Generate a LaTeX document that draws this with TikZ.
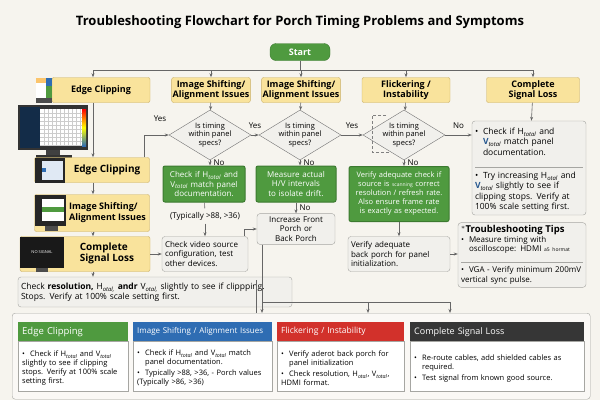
\documentclass[tikz,border=0pt]{standalone}
\usepackage{fontspec}
\setmainfont{Open Sans}
\usetikzlibrary{shapes.geometric,arrows.meta}
\definecolor{bg}{HTML}{F6F4EE}
\definecolor{yel}{HTML}{F9E39C}
\definecolor{yelline}{HTML}{C9AE62}
\definecolor{grn}{HTML}{4F9A3F}
\definecolor{grnline}{HTML}{3C7A30}
\definecolor{gbox}{HTML}{F1F0EC}
\definecolor{gline}{HTML}{A6A6A2}
\definecolor{hblue}{HTML}{2F6DB3}
\definecolor{hred}{HTML}{D2312B}
\definecolor{hdark}{HTML}{363636}
\hyphenpenalty=10000
\exhyphenpenalty=10000
\newcommand{\tsub}[1]{\textsubscript{\itshape #1}}
\newcommand{\bul}[1]{\par\hangindent=8pt\hangafter=1\makebox[8pt][l]{\textbullet}#1}
\newcommand{\sepline}{\par\vspace{1pt}{\color{gline}\rule{\linewidth}{0.4pt}}\par\vspace{1pt}}

\begin{document}
\begin{tikzpicture}[x=1pt,y=-1pt,
        every node/.style={font=\fontsize{8}{9.5}\selectfont},
        line/.style={draw=black!60,line width=0.6pt},
        arr/.style={line,-{Stealth[length=4pt,width=3pt]}},
        sym/.style={draw=yelline,fill=yel,rounded corners=2pt,align=center,
          font=\fontsize{9}{10.5}\selectfont\bfseries,inner sep=1pt},
        ask/.style={draw=black!55,fill=gbox,diamond,aspect=1.6,inner sep=-2pt,
          minimum width=82pt,minimum height=50pt,
          align=center,font=\fontsize{7.5}{8.5}\selectfont},
        act/.style={draw=grnline,fill=grn,text=white,rounded corners=2pt,
          align=center,inner sep=2pt,line width=1pt},
        stepbox/.style={draw=gline,fill=gbox,rounded corners=3pt,align=left,inner sep=3pt},
        lbl/.style={font=\fontsize{8}{9}\selectfont},
        head/.style={text=white,anchor=north west,inner sep=4pt,minimum height=19pt},
        card/.style={draw=gline,fill=white,anchor=north west,align=left,inner sep=4pt,
          font=\fontsize{7.5}{9}\selectfont},
      ]
      \fill[bg] (0,0) rectangle (600,400);
      \useasboundingbox (0,0) rectangle (600,400);
      \node[font=\fontsize{13}{15}\selectfont\bfseries] (title) at (300,22)
        {Troubleshooting Flowchart for Porch Timing Problems and Symptoms};
      \node[draw=grnline,fill=grn,text=white,rounded corners=6pt,minimum width=60pt,
        minimum height=17pt,font=\fontsize{9}{10}\selectfont\bfseries] (start) at (300,52) {Start};
      % symptom row
      \node[sym,minimum width=98pt,minimum height=25pt] (ec1) at (101,90) {Edge Clipping};
      \node[sym,minimum width=78pt,minimum height=25pt] (is1) at (211,90) {Image Shifting/\\Alignment Issues};
      \node[sym,minimum width=78pt,minimum height=25pt] (is2) at (301,90) {Image Shifting/\\Alignment Issues};
      \node[sym,minimum width=88pt,minimum height=25pt] (fl) at (406,90) {Flickering /\\Instability};
      \node[sym,minimum width=93pt,minimum height=25pt] (cs) at (533,90) {Complete\\Signal Loss};
      \fill[white] (36,78) rectangle (52,103);
      \fill[yel!70!orange] (36,78) rectangle (46,83);
      \fill[hblue] (46,78) rectangle (52,86);
      \fill[grn] (46,86) rectangle (52,98);
      \fill[black!70] (36,98) rectangle (52,103);
      \coordinate (top) at (300,70);
      \draw[line] (start) -- (top);
      \draw[line] (93,70) -- (533,70);
      \foreach \n/\x in {ec1/93,is1/211,is2/301,fl/406,cs/533}
        \draw[arr] (\x,70) -- (\n.north -| \x,0);
      % decisions
      \node[ask] (d1) at (210,135) {Is timing\\within panel\\specs?};
      \node[ask] (d2) at (300,135) {Is timing\\within panel\\specs?};
      \node[ask] (d3) at (404,135) {Is timing\\within panel\\specs?};
      \draw[black!50,densely dashed] (386,115) -- (372,115) -- (372,152) -- (390,152);
      \draw[arr] (is1) -- (d1);
      \draw[arr] (is2) -- (d2);
      \draw[arr] (fl) -- (d3);
      \draw[arr] (d1) -- node[lbl,above=3pt] {Yes} (d2);
      \draw[arr] (d2) -- node[lbl,above=3pt] {Yes} (d3);
      % actions
      \node[act,text width=78pt,minimum height=36pt] (g1) at (204,184)
        {Check if H\tsub{total} and V\tsub{total} match panel documentation.};
      \node[act,text width=76pt,minimum height=36pt] (g2) at (296,184)
        {Measure actual H/V intervals to isolate drift.};
      \node[act,text width=96pt,minimum height=55pt,font=\fontsize{7.5}{9}\selectfont] (g3) at (399,194)
        {Verify adequate check if source is {\tiny scanning} correct resolution / refresh rate. Also ensure frame rate is exactly as expected.};
      \draw[arr] (d1.south) -- node[lbl,right] {No} (d1.south |- g1.north);
      \draw[arr] (d2.south) -- node[lbl,right] {No} (d2.south |- g2.north);
      \draw[arr] (d3.south) -- node[lbl,right] {No} (d3.south |- g3.north);
      \node[lbl] (typ) at (205,216) {(Typically >88, >36)};
      \node[stepbox,text width=80pt,minimum height=35pt] (chk) at (205,254)
        {Check video source configuration, test other devices.};
      \node[stepbox,text width=72pt,minimum height=26pt,align=center] (inc) at (296,229)
        {Increase Front Porch or Back Porch};
      \node[stepbox,text width=96pt,minimum height=35pt] (ver) at (399,254)
        {Verify adequate back porch for panel initialization.};
      \draw[line] (g1) -- (typ);
      \draw[arr] (typ) -- (chk);
      \draw[arr] (g2.south) -- node[lbl,right] {No} (g2.south |- inc.north);
      \draw[arr] (chk.north east) ++(-4,0) |- (inc.west);
      \draw[arr] (g3) -- (ver);
      % right column
      \node[stepbox,text width=108pt,minimum height=93pt,font=\fontsize{8.5}{10.5}\selectfont] (chkr) at (529,168)
        {\bul{Check if H\tsub{total} and \textcolor{hblue!80!black}{\bfseries V}\tsub{total} match panel documentation.}
         \sepline
         \bul{Try increasing H\tsub{otal} and \textcolor{hblue!80!black}{\bfseries V}\tsub{total} slightly to see if clipping stops. Verify at 100\% scale setting first.}};
      \draw[arr] (d3.east) -- node[lbl,above=3pt] {No} (chkr.west |- d3.east);
      \draw[arr] (cs) -- (chkr);
      \node[stepbox,text width=122pt,minimum height=62pt,font=\fontsize{8}{9.5}\selectfont] (tips) at (522,255)
        {{\fontsize{9.5}{11}\selectfont\bfseries $^\ast$Troubleshooting Tips}
         \bul{Measure timing with oscilloscope: HDMI {\tiny a5 hormat}}
         \sepline
         \bul{VGA - Verify minimum 200mV vertical sync pulse.}};
      \draw[arr] (ver) -- (ver -| tips.west);
      % left column
      \fill[black!80] (18,105) rectangle (88,150);
      \fill[hblue!40!black] (20,107) rectangle (40,148);
      \fill[white] (40,109) rectangle (82,146);
      \foreach \x in {44,48,...,80} \draw[black!20,line width=0.3pt] (\x,109) -- (\x,146);
      \foreach \y in {113,117,...,145} \draw[black!20,line width=0.3pt] (40,\y) -- (82,\y);
      \shade[top color=red,bottom color=hblue,middle color=yellow] (82,109) rectangle (86,146);
      \fill[black!75] (46,150) rectangle (60,155);
      \fill[black!80] (36,155) rectangle (72,158);
      \node[sym,minimum width=115pt,minimum height=25pt,font=\fontsize{10}{11}\selectfont\bfseries] (ec2) at (92,170)
        {\hspace*{30pt}Edge Clipping};
      \node[sym,minimum width=115pt,minimum height=37pt,align=left] (is3) at (92,213)
        {\hspace*{31pt}\begin{tabular}{@{}l@{}}Image Shifting/\\Alignment Issues\end{tabular}};
      \node[sym,minimum width=130pt,minimum height=35pt,align=left,font=\fontsize{10}{11}\selectfont\bfseries] (cs2) at (85,254)
        {\hspace*{44pt}\begin{tabular}{@{}l@{}}Complete\\Signal Loss\end{tabular}};
      \fill[black!85] (35,158) rectangle (65,183);
      \fill[white!85!hblue] (42,161) rectangle (63,180);
      \fill[hblue] (42,168) rectangle (46,172);
      \fill[black!85] (35,195) rectangle (66,226);
      \fill[white] (42,199) rectangle (64,221);
      \fill[grn] (42,207) rectangle (64,212);
      \fill[black!70] (45,226) rectangle (58,231);
      \fill[black!90] (20,237) rectangle (64,268);
      \node[text=white,font=\fontsize{4}{5}\selectfont] (nosig) at (42,252) {NO SIGNAL};
      \fill[black!70] (36,268) rectangle (48,272);
      \draw[arr] (ec1.south -| 93,0) -- (ec2.north -| 93,0);
      \draw[arr] (ec2.south -| 93,0) -- (is3.north -| 93,0);
      \draw[arr] (is3.south -| 93,0) -- (cs2.north -| 93,0);
      \draw[arr] (cs2) -- (chk);
      \draw[arr] (ec2.north east) ++(-5,0) |- (d1.west);
      \node[lbl,above=2pt] (yes1) at (160,127) {Yes};
      \node[stepbox,text width=268pt,minimum height=30pt,font=\fontsize{8.5}{10}\selectfont] (note) at (155,292)
        {Check \textbf{resolution,} H\tsub{otal,} \textbf{andr} V\tsub{otal,} slightly to see if clippping.
         Stops. Verify at 100\% scale setting first.};
      \draw[arr] (cs2.south -| 93,0) -- (note.north -| 93,0);
      % bottom panel
      \node[draw=gline,fill=bg!60!white,rounded corners=3pt,minimum width=578pt,minimum height=86pt,anchor=north west] (panel) at (12,313) {};
      \draw[line] (inc.south -| 262,0) -- (262,302) -- (450,302);
      \draw[arr] (262,302) -- (262,313);
      \draw[line] (256,280) -- (256,313);
      \draw[arr] (368,302) -- (368,313);
      \draw[arr] (450,302) -- (450,313);
      \foreach \n/\x/\w/\s/\c/\t in {a/18/110/9.5/grn/{Edge Clipping},b/133/139/8/hblue/{Image Shifting / Alignment Issues},
          c/277/127/8.5/hred/{Flickering / Instability},d/410/174/9/hdark/{Complete Signal Loss}}
        \node[head,fill=\c,minimum width=\w pt,text width=\w pt-8pt,font=\fontsize{\s}{10}\selectfont] (h\n) at (\x,322) {\t};
      \node[card,text width=102pt,minimum height=50pt] (ca) at (ha.south west)
        {\bul{Check if H\tsub{total} and V\tsub{total} slightly to see if clipping stops. Verify at 100\% scale setting first.}};
      \node[card,text width=131pt,minimum height=50pt] (cb) at (hb.south west)
        {\bul{Check if H\tsub{total} and V\tsub{total} match panel documentation.}\par\vspace{2pt}
         \bul{Typically >88, >36, - Porch values (Typically >86, >36)}};
      \node[card,text width=119pt,minimum height=50pt] (cc) at (hc.south west)
        {\bul{Verify aderot back porch for panel initialization}\par\vspace{2pt}
         \bul{Check resolution, H\tsub{otal}, V\tsub{total}, HDMI format.}};
      \node[card,text width=166pt,minimum height=50pt] (cd) at (hd.south west)
        {\bul{Re-route cables, add shielded cables as required.}\par\vspace{2pt}
         \bul{Test signal from known good source.}};
      \end{tikzpicture}
\end{document}
